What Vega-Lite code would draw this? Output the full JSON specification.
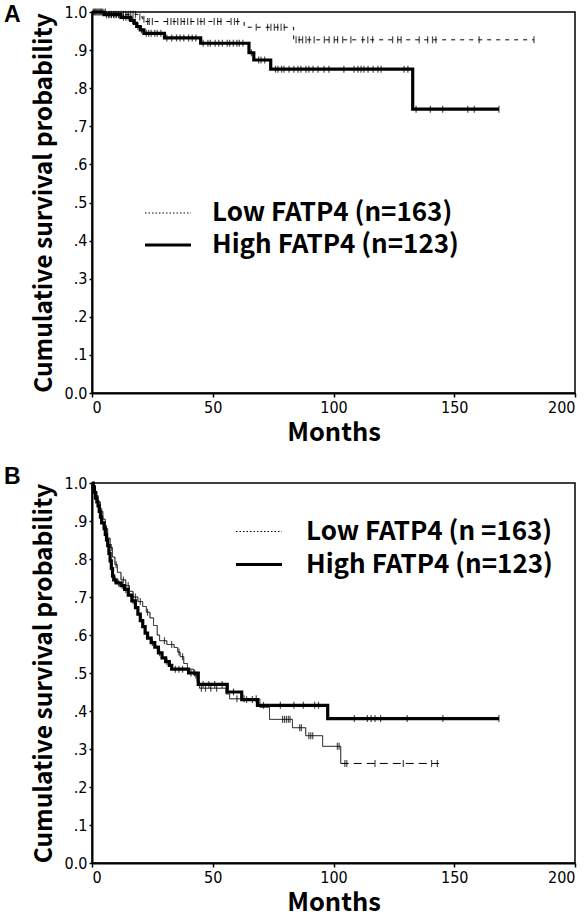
{
  "$schema": "https://vega.github.io/schema/vega-lite/v6.json",
  "padding": {"left": 3, "top": 3, "right": 5, "bottom": 2},
  "spacing": 18,
  "config": {
    "font": "Noto Sans CJK KR",
    "view": {"stroke": "black", "strokeWidth": 1.5},
    "axis": {
      "grid": false, "domainColor": "black", "domainWidth": 2,
      "tickColor": "black", "tickWidth": 1.5,
      "labelColor": "black", "labelFont": "Liberation Sans Narrow, DejaVu Sans Condensed, sans-serif", "labelFontSize": 16,
      "titleColor": "black", "titleFont": "Noto Sans CJK KR", "titleFontWeight": "bold", "titleFontSize": 24.5
    },
    "legend": {
      "orient": "none", "title": null, "symbolType": "stroke", "symbolSize": 2116,
      "symbolStrokeColor": "black", "labelFont": "Noto Sans CJK KR", "labelFontWeight": "bold",
      "labelFontSize": 26, "labelColor": "black", "labelLimit": 500, "rowPadding": 0
    },
    "title": {"anchor": "start", "frame": "group", "font": "Liberation Sans", "fontWeight": "bold", "fontSize": 23, "color": "black", "dx": -88}
  },
  "datasets": {
    "curves": [
      {"panel":"A","group":"High FATP4 (n=123)","seg":"main","month":0,"surv":1},
      {"panel":"A","group":"High FATP4 (n=123)","seg":"main","month":5,"surv":0.993},
      {"panel":"A","group":"High FATP4 (n=123)","seg":"main","month":12,"surv":0.986},
      {"panel":"A","group":"High FATP4 (n=123)","seg":"main","month":16,"surv":0.978},
      {"panel":"A","group":"High FATP4 (n=123)","seg":"main","month":17.5,"surv":0.97},
      {"panel":"A","group":"High FATP4 (n=123)","seg":"main","month":18.5,"surv":0.962},
      {"panel":"A","group":"High FATP4 (n=123)","seg":"main","month":20,"surv":0.953},
      {"panel":"A","group":"High FATP4 (n=123)","seg":"main","month":21.5,"surv":0.944},
      {"panel":"A","group":"High FATP4 (n=123)","seg":"main","month":30,"surv":0.932},
      {"panel":"A","group":"High FATP4 (n=123)","seg":"main","month":45,"surv":0.918},
      {"panel":"A","group":"High FATP4 (n=123)","seg":"main","month":65,"surv":0.893},
      {"panel":"A","group":"High FATP4 (n=123)","seg":"main","month":67,"surv":0.874},
      {"panel":"A","group":"High FATP4 (n=123)","seg":"main","month":74,"surv":0.85},
      {"panel":"A","group":"High FATP4 (n=123)","seg":"main","month":132.8,"surv":0.745},
      {"panel":"A","group":"High FATP4 (n=123)","seg":"main","month":168.5,"surv":0.745},
      {"panel":"A","group":"Low FATP4 (n=163)","seg":"tail","month":0,"surv":1},
      {"panel":"A","group":"Low FATP4 (n=163)","seg":"tail","month":6,"surv":0.994},
      {"panel":"A","group":"Low FATP4 (n=163)","seg":"tail","month":19,"surv":0.987},
      {"panel":"A","group":"Low FATP4 (n=163)","seg":"tail","month":21,"surv":0.981},
      {"panel":"A","group":"Low FATP4 (n=163)","seg":"tail","month":22,"surv":0.975},
      {"panel":"A","group":"Low FATP4 (n=163)","seg":"tail","month":63,"surv":0.96},
      {"panel":"A","group":"Low FATP4 (n=163)","seg":"tail","month":83.5,"surv":0.927},
      {"panel":"A","group":"Low FATP4 (n=163)","seg":"tail","month":183,"surv":0.927},

      {"panel":"B","group":"High FATP4 (n=123)","seg":"main","month":0,"surv":1},
      {"panel":"B","group":"High FATP4 (n=123)","seg":"main","month":0.5,"surv":0.99},
      {"panel":"B","group":"High FATP4 (n=123)","seg":"main","month":1,"surv":0.975},
      {"panel":"B","group":"High FATP4 (n=123)","seg":"main","month":1.5,"surv":0.96},
      {"panel":"B","group":"High FATP4 (n=123)","seg":"main","month":2,"surv":0.95},
      {"panel":"B","group":"High FATP4 (n=123)","seg":"main","month":2.5,"surv":0.94},
      {"panel":"B","group":"High FATP4 (n=123)","seg":"main","month":3,"surv":0.925},
      {"panel":"B","group":"High FATP4 (n=123)","seg":"main","month":3.5,"surv":0.91},
      {"panel":"B","group":"High FATP4 (n=123)","seg":"main","month":4,"surv":0.895},
      {"panel":"B","group":"High FATP4 (n=123)","seg":"main","month":5,"surv":0.88},
      {"panel":"B","group":"High FATP4 (n=123)","seg":"main","month":5.5,"surv":0.865},
      {"panel":"B","group":"High FATP4 (n=123)","seg":"main","month":6,"surv":0.85},
      {"panel":"B","group":"High FATP4 (n=123)","seg":"main","month":6.5,"surv":0.835},
      {"panel":"B","group":"High FATP4 (n=123)","seg":"main","month":7,"surv":0.815},
      {"panel":"B","group":"High FATP4 (n=123)","seg":"main","month":7.5,"surv":0.795},
      {"panel":"B","group":"High FATP4 (n=123)","seg":"main","month":8,"surv":0.775},
      {"panel":"B","group":"High FATP4 (n=123)","seg":"main","month":8.5,"surv":0.755},
      {"panel":"B","group":"High FATP4 (n=123)","seg":"main","month":9,"surv":0.745},
      {"panel":"B","group":"High FATP4 (n=123)","seg":"main","month":10,"surv":0.737},
      {"panel":"B","group":"High FATP4 (n=123)","seg":"main","month":12,"surv":0.73},
      {"panel":"B","group":"High FATP4 (n=123)","seg":"main","month":13.5,"surv":0.72},
      {"panel":"B","group":"High FATP4 (n=123)","seg":"main","month":15,"surv":0.705},
      {"panel":"B","group":"High FATP4 (n=123)","seg":"main","month":16.5,"surv":0.69},
      {"panel":"B","group":"High FATP4 (n=123)","seg":"main","month":18,"surv":0.672},
      {"panel":"B","group":"High FATP4 (n=123)","seg":"main","month":19,"surv":0.655},
      {"panel":"B","group":"High FATP4 (n=123)","seg":"main","month":20,"surv":0.638},
      {"panel":"B","group":"High FATP4 (n=123)","seg":"main","month":21,"surv":0.622},
      {"panel":"B","group":"High FATP4 (n=123)","seg":"main","month":22,"surv":0.605},
      {"panel":"B","group":"High FATP4 (n=123)","seg":"main","month":23,"surv":0.592},
      {"panel":"B","group":"High FATP4 (n=123)","seg":"main","month":24.5,"surv":0.58},
      {"panel":"B","group":"High FATP4 (n=123)","seg":"main","month":26,"surv":0.568},
      {"panel":"B","group":"High FATP4 (n=123)","seg":"main","month":27.5,"surv":0.553},
      {"panel":"B","group":"High FATP4 (n=123)","seg":"main","month":29,"surv":0.54},
      {"panel":"B","group":"High FATP4 (n=123)","seg":"main","month":30.5,"surv":0.53},
      {"panel":"B","group":"High FATP4 (n=123)","seg":"main","month":32,"surv":0.52},
      {"panel":"B","group":"High FATP4 (n=123)","seg":"main","month":33,"surv":0.51},
      {"panel":"B","group":"High FATP4 (n=123)","seg":"main","month":40,"surv":0.5},
      {"panel":"B","group":"High FATP4 (n=123)","seg":"main","month":44,"surv":0.47},
      {"panel":"B","group":"High FATP4 (n=123)","seg":"main","month":56,"surv":0.45},
      {"panel":"B","group":"High FATP4 (n=123)","seg":"main","month":62,"surv":0.43},
      {"panel":"B","group":"High FATP4 (n=123)","seg":"main","month":68.5,"surv":0.415},
      {"panel":"B","group":"High FATP4 (n=123)","seg":"main","month":97.6,"surv":0.38},
      {"panel":"B","group":"High FATP4 (n=123)","seg":"main","month":168.5,"surv":0.38},

      {"panel":"B","group":"Low FATP4 (n =163)","seg":"main","month":0,"surv":1},
      {"panel":"B","group":"Low FATP4 (n =163)","seg":"main","month":1,"surv":0.985},
      {"panel":"B","group":"Low FATP4 (n =163)","seg":"main","month":1.5,"surv":0.967},
      {"panel":"B","group":"Low FATP4 (n =163)","seg":"main","month":2.5,"surv":0.95},
      {"panel":"B","group":"Low FATP4 (n =163)","seg":"main","month":3.5,"surv":0.925},
      {"panel":"B","group":"Low FATP4 (n =163)","seg":"main","month":4.5,"surv":0.905},
      {"panel":"B","group":"Low FATP4 (n =163)","seg":"main","month":5.5,"surv":0.88},
      {"panel":"B","group":"Low FATP4 (n =163)","seg":"main","month":6.5,"surv":0.855},
      {"panel":"B","group":"Low FATP4 (n =163)","seg":"main","month":7.5,"surv":0.83},
      {"panel":"B","group":"Low FATP4 (n =163)","seg":"main","month":8.5,"surv":0.805},
      {"panel":"B","group":"Low FATP4 (n =163)","seg":"main","month":9.5,"surv":0.785},
      {"panel":"B","group":"Low FATP4 (n =163)","seg":"main","month":10.5,"surv":0.765},
      {"panel":"B","group":"Low FATP4 (n =163)","seg":"main","month":12,"surv":0.745},
      {"panel":"B","group":"Low FATP4 (n =163)","seg":"main","month":14,"surv":0.73},
      {"panel":"B","group":"Low FATP4 (n =163)","seg":"main","month":15.5,"surv":0.715},
      {"panel":"B","group":"Low FATP4 (n =163)","seg":"main","month":17,"surv":0.7},
      {"panel":"B","group":"Low FATP4 (n =163)","seg":"main","month":19,"surv":0.688},
      {"panel":"B","group":"Low FATP4 (n =163)","seg":"main","month":21,"surv":0.675},
      {"panel":"B","group":"Low FATP4 (n =163)","seg":"main","month":22.5,"surv":0.66},
      {"panel":"B","group":"Low FATP4 (n =163)","seg":"main","month":24,"surv":0.645},
      {"panel":"B","group":"Low FATP4 (n =163)","seg":"main","month":25.5,"surv":0.625},
      {"panel":"B","group":"Low FATP4 (n =163)","seg":"main","month":27,"surv":0.6},
      {"panel":"B","group":"Low FATP4 (n =163)","seg":"main","month":28,"surv":0.585},
      {"panel":"B","group":"Low FATP4 (n =163)","seg":"main","month":31,"surv":0.575},
      {"panel":"B","group":"Low FATP4 (n =163)","seg":"main","month":34,"surv":0.567},
      {"panel":"B","group":"Low FATP4 (n =163)","seg":"main","month":35.5,"surv":0.555},
      {"panel":"B","group":"Low FATP4 (n =163)","seg":"main","month":36.5,"surv":0.543},
      {"panel":"B","group":"Low FATP4 (n =163)","seg":"main","month":38,"surv":0.525},
      {"panel":"B","group":"Low FATP4 (n =163)","seg":"main","month":39.5,"surv":0.51},
      {"panel":"B","group":"Low FATP4 (n =163)","seg":"main","month":42,"surv":0.495},
      {"panel":"B","group":"Low FATP4 (n =163)","seg":"main","month":43.5,"surv":0.478},
      {"panel":"B","group":"Low FATP4 (n =163)","seg":"main","month":44.5,"surv":0.46},
      {"panel":"B","group":"Low FATP4 (n =163)","seg":"main","month":55.5,"surv":0.445},
      {"panel":"B","group":"Low FATP4 (n =163)","seg":"main","month":57,"surv":0.432},
      {"panel":"B","group":"Low FATP4 (n =163)","seg":"main","month":69.5,"surv":0.41},
      {"panel":"B","group":"Low FATP4 (n =163)","seg":"main","month":73.5,"surv":0.378},
      {"panel":"B","group":"Low FATP4 (n =163)","seg":"main","month":83,"surv":0.356},
      {"panel":"B","group":"Low FATP4 (n =163)","seg":"main","month":88.5,"surv":0.335},
      {"panel":"B","group":"Low FATP4 (n =163)","seg":"main","month":95.5,"surv":0.307},
      {"panel":"B","group":"Low FATP4 (n =163)","seg":"main","month":103,"surv":0.262},
      {"panel":"B","group":"Low FATP4 (n =163)","seg":"tail","month":103,"surv":0.262},
      {"panel":"B","group":"Low FATP4 (n =163)","seg":"tail","month":143.7,"surv":0.262}
    ],
    "censored": [
      {"panel":"A","group":"High","month":1,"surv":1},{"panel":"A","group":"High","month":2,"surv":1},{"panel":"A","group":"High","month":3,"surv":1},{"panel":"A","group":"High","month":4,"surv":1},
      {"panel":"A","group":"High","month":6,"surv":0.993},{"panel":"A","group":"High","month":7,"surv":0.993},{"panel":"A","group":"High","month":8,"surv":0.993},{"panel":"A","group":"High","month":9,"surv":0.993},{"panel":"A","group":"High","month":10,"surv":0.993},{"panel":"A","group":"High","month":11,"surv":0.993},
      {"panel":"A","group":"High","month":13,"surv":0.986},{"panel":"A","group":"High","month":14,"surv":0.986},{"panel":"A","group":"High","month":15,"surv":0.986},
      {"panel":"A","group":"High","month":16.8,"surv":0.978},{"panel":"A","group":"High","month":19,"surv":0.962},{"panel":"A","group":"High","month":20.5,"surv":0.953},
      {"panel":"A","group":"High","month":22.5,"surv":0.944},{"panel":"A","group":"High","month":23.5,"surv":0.944},{"panel":"A","group":"High","month":24.5,"surv":0.944},{"panel":"A","group":"High","month":26,"surv":0.944},{"panel":"A","group":"High","month":27,"surv":0.944},{"panel":"A","group":"High","month":28.5,"surv":0.944},
      {"panel":"A","group":"High","month":31,"surv":0.932},{"panel":"A","group":"High","month":33,"surv":0.932},{"panel":"A","group":"High","month":35,"surv":0.932},{"panel":"A","group":"High","month":36.5,"surv":0.932},{"panel":"A","group":"High","month":38,"surv":0.932},{"panel":"A","group":"High","month":40,"surv":0.932},{"panel":"A","group":"High","month":41.5,"surv":0.932},{"panel":"A","group":"High","month":43,"surv":0.932},
      {"panel":"A","group":"High","month":46,"surv":0.918},{"panel":"A","group":"High","month":48,"surv":0.918},{"panel":"A","group":"High","month":49,"surv":0.918},{"panel":"A","group":"High","month":51,"surv":0.918},{"panel":"A","group":"High","month":52.5,"surv":0.918},{"panel":"A","group":"High","month":54,"surv":0.918},{"panel":"A","group":"High","month":56,"surv":0.918},{"panel":"A","group":"High","month":57,"surv":0.918},{"panel":"A","group":"High","month":58.5,"surv":0.918},{"panel":"A","group":"High","month":60,"surv":0.918},{"panel":"A","group":"High","month":61,"surv":0.918},{"panel":"A","group":"High","month":62.5,"surv":0.918},
      {"panel":"A","group":"High","month":66,"surv":0.893},{"panel":"A","group":"High","month":69,"surv":0.874},{"panel":"A","group":"High","month":70,"surv":0.874},{"panel":"A","group":"High","month":71.5,"surv":0.874},
      {"panel":"A","group":"High","month":76,"surv":0.85},{"panel":"A","group":"High","month":77,"surv":0.85},{"panel":"A","group":"High","month":78.5,"surv":0.85},{"panel":"A","group":"High","month":79.5,"surv":0.85},{"panel":"A","group":"High","month":81.6,"surv":0.85},{"panel":"A","group":"High","month":83.6,"surv":0.85},{"panel":"A","group":"High","month":85.3,"surv":0.85},{"panel":"A","group":"High","month":86.5,"surv":0.85},{"panel":"A","group":"High","month":88.6,"surv":0.85},{"panel":"A","group":"High","month":89.8,"surv":0.85},{"panel":"A","group":"High","month":91.5,"surv":0.85},{"panel":"A","group":"High","month":93.6,"surv":0.85},{"panel":"A","group":"High","month":96.1,"surv":0.85},{"panel":"A","group":"High","month":98.1,"surv":0.85},{"panel":"A","group":"High","month":104.3,"surv":0.85},{"panel":"A","group":"High","month":108.5,"surv":0.85},{"panel":"A","group":"High","month":110.1,"surv":0.85},{"panel":"A","group":"High","month":111.4,"surv":0.85},{"panel":"A","group":"High","month":112.6,"surv":0.85},{"panel":"A","group":"High","month":114.3,"surv":0.85},{"panel":"A","group":"High","month":116.4,"surv":0.85},{"panel":"A","group":"High","month":118.4,"surv":0.85},{"panel":"A","group":"High","month":119.7,"surv":0.85},{"panel":"A","group":"High","month":129.2,"surv":0.85},{"panel":"A","group":"High","month":130.8,"surv":0.85},
      {"panel":"A","group":"High","month":134.2,"surv":0.745},{"panel":"A","group":"High","month":140.1,"surv":0.745},{"panel":"A","group":"High","month":145.2,"surv":0.745},{"panel":"A","group":"High","month":155.6,"surv":0.745},{"panel":"A","group":"High","month":158.3,"surv":0.745},{"panel":"A","group":"High","month":168.5,"surv":0.745},

      {"panel":"A","group":"Low","month":0.5,"surv":1},{"panel":"A","group":"Low","month":1.5,"surv":1},{"panel":"A","group":"Low","month":2.5,"surv":1},{"panel":"A","group":"Low","month":3.5,"surv":1},{"panel":"A","group":"Low","month":4.5,"surv":1},{"panel":"A","group":"Low","month":5.5,"surv":1},
      {"panel":"A","group":"Low","month":7,"surv":0.994},{"panel":"A","group":"Low","month":8,"surv":0.994},{"panel":"A","group":"Low","month":9,"surv":0.994},{"panel":"A","group":"Low","month":10,"surv":0.994},{"panel":"A","group":"Low","month":11,"surv":0.994},{"panel":"A","group":"Low","month":12,"surv":0.994},{"panel":"A","group":"Low","month":13,"surv":0.994},{"panel":"A","group":"Low","month":14,"surv":0.994},{"panel":"A","group":"Low","month":15,"surv":0.994},{"panel":"A","group":"Low","month":16,"surv":0.994},{"panel":"A","group":"Low","month":17,"surv":0.994},{"panel":"A","group":"Low","month":18,"surv":0.994},
      {"panel":"A","group":"Low","month":19.8,"surv":0.987},{"panel":"A","group":"Low","month":21.5,"surv":0.981},
      {"panel":"A","group":"Low","month":23,"surv":0.975},{"panel":"A","group":"Low","month":23.7,"surv":0.975},{"panel":"A","group":"Low","month":25,"surv":0.975},{"panel":"A","group":"Low","month":31.3,"surv":0.975},{"panel":"A","group":"Low","month":32.7,"surv":0.975},{"panel":"A","group":"Low","month":34,"surv":0.975},{"panel":"A","group":"Low","month":35.5,"surv":0.975},{"panel":"A","group":"Low","month":36.9,"surv":0.975},{"panel":"A","group":"Low","month":38.2,"surv":0.975},{"panel":"A","group":"Low","month":39.6,"surv":0.975},{"panel":"A","group":"Low","month":41,"surv":0.975},{"panel":"A","group":"Low","month":43.8,"surv":0.975},{"panel":"A","group":"Low","month":45.1,"surv":0.975},{"panel":"A","group":"Low","month":46.5,"surv":0.975},{"panel":"A","group":"Low","month":50.6,"surv":0.975},{"panel":"A","group":"Low","month":52,"surv":0.975},{"panel":"A","group":"Low","month":53.4,"surv":0.975},{"panel":"A","group":"Low","month":57.6,"surv":0.975},{"panel":"A","group":"Low","month":59,"surv":0.975},{"panel":"A","group":"Low","month":60.3,"surv":0.975},
      {"panel":"A","group":"Low","month":68,"surv":0.96},{"panel":"A","group":"Low","month":72.7,"surv":0.96},{"panel":"A","group":"Low","month":74.1,"surv":0.96},{"panel":"A","group":"Low","month":75.5,"surv":0.96},{"panel":"A","group":"Low","month":76.9,"surv":0.96},{"panel":"A","group":"Low","month":78.3,"surv":0.96},{"panel":"A","group":"Low","month":79.6,"surv":0.96},
      {"panel":"A","group":"Low","month":84.5,"surv":0.927},{"panel":"A","group":"Low","month":85.8,"surv":0.927},{"panel":"A","group":"Low","month":87.2,"surv":0.927},{"panel":"A","group":"Low","month":88.6,"surv":0.927},{"panel":"A","group":"Low","month":90,"surv":0.927},{"panel":"A","group":"Low","month":92,"surv":0.927},{"panel":"A","group":"Low","month":96.2,"surv":0.927},{"panel":"A","group":"Low","month":98.2,"surv":0.927},{"panel":"A","group":"Low","month":100.3,"surv":0.927},{"panel":"A","group":"Low","month":101.7,"surv":0.927},{"panel":"A","group":"Low","month":103.8,"surv":0.927},{"panel":"A","group":"Low","month":107.2,"surv":0.927},{"panel":"A","group":"Low","month":112.1,"surv":0.927},{"panel":"A","group":"Low","month":114.2,"surv":0.927},{"panel":"A","group":"Low","month":116.2,"surv":0.927},{"panel":"A","group":"Low","month":124.5,"surv":0.927},{"panel":"A","group":"Low","month":126.6,"surv":0.927},{"panel":"A","group":"Low","month":128,"surv":0.927},{"panel":"A","group":"Low","month":135.5,"surv":0.927},{"panel":"A","group":"Low","month":139,"surv":0.927},{"panel":"A","group":"Low","month":141,"surv":0.927},{"panel":"A","group":"Low","month":142.4,"surv":0.927},{"panel":"A","group":"Low","month":160.3,"surv":0.927},{"panel":"A","group":"Low","month":183,"surv":0.927},

      {"panel":"B","group":"High","month":1.2,"surv":0.975},{"panel":"B","group":"High","month":3.2,"surv":0.925},{"panel":"B","group":"High","month":5.2,"surv":0.88},{"panel":"B","group":"High","month":9.5,"surv":0.745},{"panel":"B","group":"High","month":11,"surv":0.737},{"panel":"B","group":"High","month":12.5,"surv":0.73},{"panel":"B","group":"High","month":14,"surv":0.72},{"panel":"B","group":"High","month":17,"surv":0.69},{"panel":"B","group":"High","month":25,"surv":0.58},{"panel":"B","group":"High","month":28,"surv":0.553},{"panel":"B","group":"High","month":31,"surv":0.53},
      {"panel":"B","group":"High","month":34.5,"surv":0.51},{"panel":"B","group":"High","month":36,"surv":0.51},{"panel":"B","group":"High","month":37.5,"surv":0.51},{"panel":"B","group":"High","month":41,"surv":0.5},{"panel":"B","group":"High","month":42.5,"surv":0.5},
      {"panel":"B","group":"High","month":46,"surv":0.47},{"panel":"B","group":"High","month":48.4,"surv":0.47},{"panel":"B","group":"High","month":50.8,"surv":0.47},{"panel":"B","group":"High","month":53.9,"surv":0.47},{"panel":"B","group":"High","month":58.6,"surv":0.45},{"panel":"B","group":"High","month":64,"surv":0.43},{"panel":"B","group":"High","month":66.4,"surv":0.43},
      {"panel":"B","group":"High","month":71,"surv":0.415},{"panel":"B","group":"High","month":78,"surv":0.415},{"panel":"B","group":"High","month":83.6,"surv":0.415},{"panel":"B","group":"High","month":87.5,"surv":0.415},{"panel":"B","group":"High","month":92.2,"surv":0.415},{"panel":"B","group":"High","month":93.8,"surv":0.415},
      {"panel":"B","group":"High","month":108.6,"surv":0.38},{"panel":"B","group":"High","month":114,"surv":0.38},{"panel":"B","group":"High","month":115.6,"surv":0.38},{"panel":"B","group":"High","month":117.2,"surv":0.38},{"panel":"B","group":"High","month":119.5,"surv":0.38},{"panel":"B","group":"High","month":130.5,"surv":0.38},{"panel":"B","group":"High","month":145.3,"surv":0.38},{"panel":"B","group":"High","month":168.5,"surv":0.38},

      {"panel":"B","group":"Low","month":2,"surv":0.967},{"panel":"B","group":"Low","month":4,"surv":0.925},{"panel":"B","group":"Low","month":6,"surv":0.88},{"panel":"B","group":"Low","month":8,"surv":0.83},{"panel":"B","group":"Low","month":10,"surv":0.785},{"panel":"B","group":"Low","month":13,"surv":0.745},{"panel":"B","group":"Low","month":15,"surv":0.73},{"panel":"B","group":"Low","month":18,"surv":0.7},{"panel":"B","group":"Low","month":20,"surv":0.688},{"panel":"B","group":"Low","month":23,"surv":0.66},{"panel":"B","group":"Low","month":30,"surv":0.585},{"panel":"B","group":"Low","month":33,"surv":0.575},
      {"panel":"B","group":"Low","month":36,"surv":0.555},{"panel":"B","group":"Low","month":37.5,"surv":0.543},{"panel":"B","group":"Low","month":43,"surv":0.495},{"panel":"B","group":"Low","month":45.3,"surv":0.46},{"panel":"B","group":"Low","month":47,"surv":0.46},{"panel":"B","group":"Low","month":49.2,"surv":0.46},{"panel":"B","group":"Low","month":51.6,"surv":0.46},{"panel":"B","group":"Low","month":60,"surv":0.432},{"panel":"B","group":"Low","month":63,"surv":0.432},{"panel":"B","group":"Low","month":68,"surv":0.432},
      {"panel":"B","group":"Low","month":78.9,"surv":0.378},{"panel":"B","group":"Low","month":79.7,"surv":0.378},{"panel":"B","group":"Low","month":80.5,"surv":0.378},{"panel":"B","group":"Low","month":81.3,"surv":0.378},{"panel":"B","group":"Low","month":82,"surv":0.378},
      {"panel":"B","group":"Low","month":86,"surv":0.356},{"panel":"B","group":"Low","month":86.7,"surv":0.356},{"panel":"B","group":"Low","month":89.8,"surv":0.335},{"panel":"B","group":"Low","month":90.6,"surv":0.335},{"panel":"B","group":"Low","month":91.4,"surv":0.335},{"panel":"B","group":"Low","month":101.6,"surv":0.307},{"panel":"B","group":"Low","month":102.3,"surv":0.307},
      {"panel":"B","group":"Low","month":104.7,"surv":0.262},{"panel":"B","group":"Low","month":105.5,"surv":0.262},{"panel":"B","group":"Low","month":117.2,"surv":0.262},{"panel":"B","group":"Low","month":128.9,"surv":0.262},{"panel":"B","group":"Low","month":140.6,"surv":0.262},{"panel":"B","group":"Low","month":143,"surv":0.262}
    ]
  },
  "vconcat": [
    {
      "title": {"text": "A", "offset": -23},
      "width": 483,
      "height": 381,
      "encoding": {
        "x": {"field": "month", "type": "quantitative", "scale": {"domain": [0, 200], "nice": false},
          "axis": {"values": [0, 50, 100, 150, 200], "title": "Months", "titleFontSize": 25.5, "tickSize": 4, "labelPadding": 2, "titlePadding": 5}},
        "y": {"field": "surv", "type": "quantitative", "scale": {"domain": [0, 1], "nice": false},
          "axis": {"values": [0, 0.1, 0.2, 0.3, 0.4, 0.5, 0.6, 0.7, 0.8, 0.9, 1], "labelExpr": "datum.value == 0 ? '0.0' : (datum.value >= 0.999 ? '1.0' : '.' + format(datum.value * 10, '.0f'))", "title": "Cumulative survival probability", "tickSize": 3, "labelPadding": 2, "titlePadding": 8}}
      },
      "layer": [
        {
          "data": {"name": "curves"},
          "transform": [{"filter": "datum.panel == 'A'"}],
          "mark": {"type": "line", "interpolate": "step-after", "color": "black"},
          "encoding": {
            "detail": {"field": "seg"},
            "strokeDash": {"field": "group", "type": "nominal",
              "condition": [{"test": "datum.seg == 'main'", "value": [1, 0]}, {"test": "datum.seg == 'tail'", "value": [4, 5]}],
              "scale": {"domain": ["Low FATP4 (n=163)", "High FATP4 (n=123)"], "range": [[1.5, 2], [1, 0]]},
              "legend": {"legendX": 51, "legendY": 185, "labelOffset": 19, "clipHeight": 32,
                "encode": {"symbols": {"update": {"strokeWidth": {"signal": "indexof(datum.value, 'Low') === 0 ? 1.5 : 4"}, "stroke": {"value": "black"}}}}}},
            "strokeWidth": {"field": "group", "type": "nominal",
              "scale": {"type": "ordinal", "domain": ["Low FATP4 (n=163)", "High FATP4 (n=123)"], "range": [1, 3.2]}, "legend": null}
          }
        },
        {
          "data": {"name": "censored"},
          "transform": [{"filter": "datum.panel == 'A'"}],
          "mark": {"type": "tick", "orient": "vertical", "size": 7, "thickness": 1.2, "color": "black"}
        },
        {
          "data": {"values": [{}]},
          "mark": {"type": "text", "text": "P", "font": "Liberation Sans", "fontStyle": "italic", "fontWeight": "bold", "fontSize": 23, "align": "left", "baseline": "middle", "color": "black"},
          "encoding": {"x": {"datum": 29.4}, "y": {"datum": 0.228}}
        },
        {
          "data": {"values": [{}]},
          "mark": {"type": "text", "text": "=  .045", "font": "Noto Sans CJK KR", "fontWeight": "bold", "fontSize": 21, "align": "left", "baseline": "middle", "color": "black"},
          "encoding": {"x": {"datum": 38.1}, "y": {"datum": 0.228}}
        }
      ]
    },
    {
      "title": {"text": "B", "offset": -14},
      "width": 483,
      "height": 380,
      "encoding": {
        "x": {"field": "month", "type": "quantitative", "scale": {"domain": [0, 200], "nice": false},
          "axis": {"values": [0, 50, 100, 150, 200], "title": "Months", "titleFontSize": 25.5, "tickSize": 4, "labelPadding": 2, "titlePadding": 5}},
        "y": {"field": "surv", "type": "quantitative", "scale": {"domain": [0, 1], "nice": false},
          "axis": {"values": [0, 0.1, 0.2, 0.3, 0.4, 0.5, 0.6, 0.7, 0.8, 0.9, 1], "labelExpr": "datum.value == 0 ? '0.0' : (datum.value >= 0.999 ? '1.0' : '.' + format(datum.value * 10, '.0f'))", "title": "Cumulative survival probability", "tickSize": 3, "labelPadding": 2, "titlePadding": 8}}
      },
      "layer": [
        {
          "data": {"name": "curves"},
          "transform": [{"filter": "datum.panel == 'B'"}],
          "mark": {"type": "line", "interpolate": "step-after", "color": "black"},
          "encoding": {
            "detail": {"field": "seg"},
            "strokeDash": {"field": "group", "type": "nominal",
              "condition": [{"test": "datum.seg == 'main'", "value": [1, 0]}, {"test": "datum.seg == 'tail'", "value": [8, 5]}],
              "scale": {"domain": ["Low FATP4 (n =163)", "High FATP4 (n=123)"], "range": [[1.5, 2], [1, 0]]},
              "legend": {"legendX": 142, "legendY": 32, "labelOffset": 22, "clipHeight": 33,
                "encode": {"symbols": {"update": {"strokeWidth": {"signal": "indexof(datum.value, 'Low') === 0 ? 1.5 : 4"}, "stroke": {"value": "black"}}}}}},
            "strokeWidth": {"field": "group", "type": "nominal",
              "scale": {"type": "ordinal", "domain": ["Low FATP4 (n =163)", "High FATP4 (n=123)"], "range": [1, 3.2]}, "legend": null}
          }
        },
        {
          "data": {"name": "censored"},
          "transform": [{"filter": "datum.panel == 'B'"}],
          "mark": {"type": "tick", "orient": "vertical", "size": 7, "thickness": 1.2, "color": "black"}
        },
        {
          "data": {"values": [{}]},
          "mark": {"type": "text", "text": "P", "font": "Liberation Sans", "fontStyle": "italic", "fontWeight": "bold", "fontSize": 23, "align": "left", "baseline": "middle", "color": "black"},
          "encoding": {"x": {"datum": 65}, "y": {"datum": 0.626}}
        },
        {
          "data": {"values": [{}]},
          "mark": {"type": "text", "text": "=   .895", "font": "Noto Sans CJK KR", "fontWeight": "bold", "fontSize": 21, "align": "left", "baseline": "middle", "color": "black"},
          "encoding": {"x": {"datum": 72.9}, "y": {"datum": 0.626}}
        }
      ]
    }
  ],
  "resolve": {"scale": {"strokeDash": "independent", "strokeWidth": "independent"}, "legend": {"strokeDash": "independent"}}
}
